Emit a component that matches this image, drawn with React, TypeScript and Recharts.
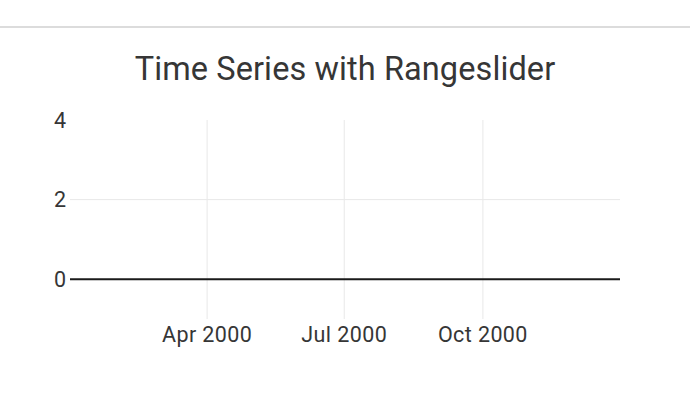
import React from 'react';
import { LineChart, Line, XAxis, YAxis, ReferenceLine } from 'recharts';

const rangeDates = ['2000-01-01', '2000-12-31'];
const seriesValues: (number | null)[] = [null, null];
const xTickDates = ['2000-04-01', '2000-07-01', '2000-10-01'];
const xTickLabels = ['Apr 2000', 'Jul 2000', 'Oct 2000'];
const yTicks = [0, 2, 4];
const yGridValues = [2];
const yDomain = [-1, 4];

const toMs = (d: string) => Date.parse(d + 'T00:00:00Z');

const data = rangeDates.map((d, i) => ({ t: toMs(d), value: seriesValues[i] }));
const xTicks = xTickDates.map(toMs);
const labelFor = (v: number) => {
  const i = xTicks.indexOf(v);
  return i >= 0 ? xTickLabels[i] : '';
};

const FONT = 'Roboto, sans-serif';
const TEXT = '#363636';

export default function App() {
  return (
    <div style={{ position: 'absolute', left: 0, top: 0, width: 690, height: 405, background: '#fff', fontFamily: FONT }}>
      <div style={{ position: 'absolute', left: 0, top: 26, width: 690, height: 2, background: '#dcdcdc' }} />
      <div
        style={{
          position: 'absolute',
          left: 0,
          top: 49,
          width: 690,
          textAlign: 'center',
          fontSize: 32.5,
          letterSpacing: 0.1,
          lineHeight: '40px',
          color: TEXT,
          fontFamily: FONT,
        }}
      >
        Time Series with Rangeslider
      </div>
      <div style={{ position: 'absolute', left: 0, top: 0 }}>
        <LineChart width={690} height={405} data={data} margin={{ top: 120, right: 70, left: 0, bottom: 0 }}>
          {xTicks.map((t) => (
            <ReferenceLine key={'gx' + t} x={t} stroke="#e8e8e8" strokeWidth={1} />
          ))}
          {yGridValues.map((v) => (
            <ReferenceLine key={'gy' + v} y={v} stroke="#e8e8e8" strokeWidth={1} />
          ))}
          <XAxis
            dataKey="t"
            type="number"
            scale="time"
            domain={[toMs(rangeDates[0]), toMs(rangeDates[1])]}
            ticks={xTicks}
            tickFormatter={labelFor}
            axisLine={false}
            tickLine={false}
            tickSize={0}
            tickMargin={8}
            height={86}
            tick={{ fill: TEXT, fontSize: 21.5, letterSpacing: 0.4, fontFamily: FONT }}
            allowDataOverflow
          />
          <YAxis
            type="number"
            domain={yDomain}
            ticks={yTicks}
            axisLine={false}
            tickLine={false}
            tickSize={0}
            tickMargin={4}
            width={70}
            tick={{ fill: TEXT, fontSize: 21.5, fontFamily: FONT }}
            allowDataOverflow
          />
          <ReferenceLine y={0} stroke="#1a1a1a" strokeWidth={2} />
          <Line dataKey="value" stroke="#1f77b4" dot={false} isAnimationActive={false} connectNulls={false} />
        </LineChart>
      </div>
    </div>
  );
}
